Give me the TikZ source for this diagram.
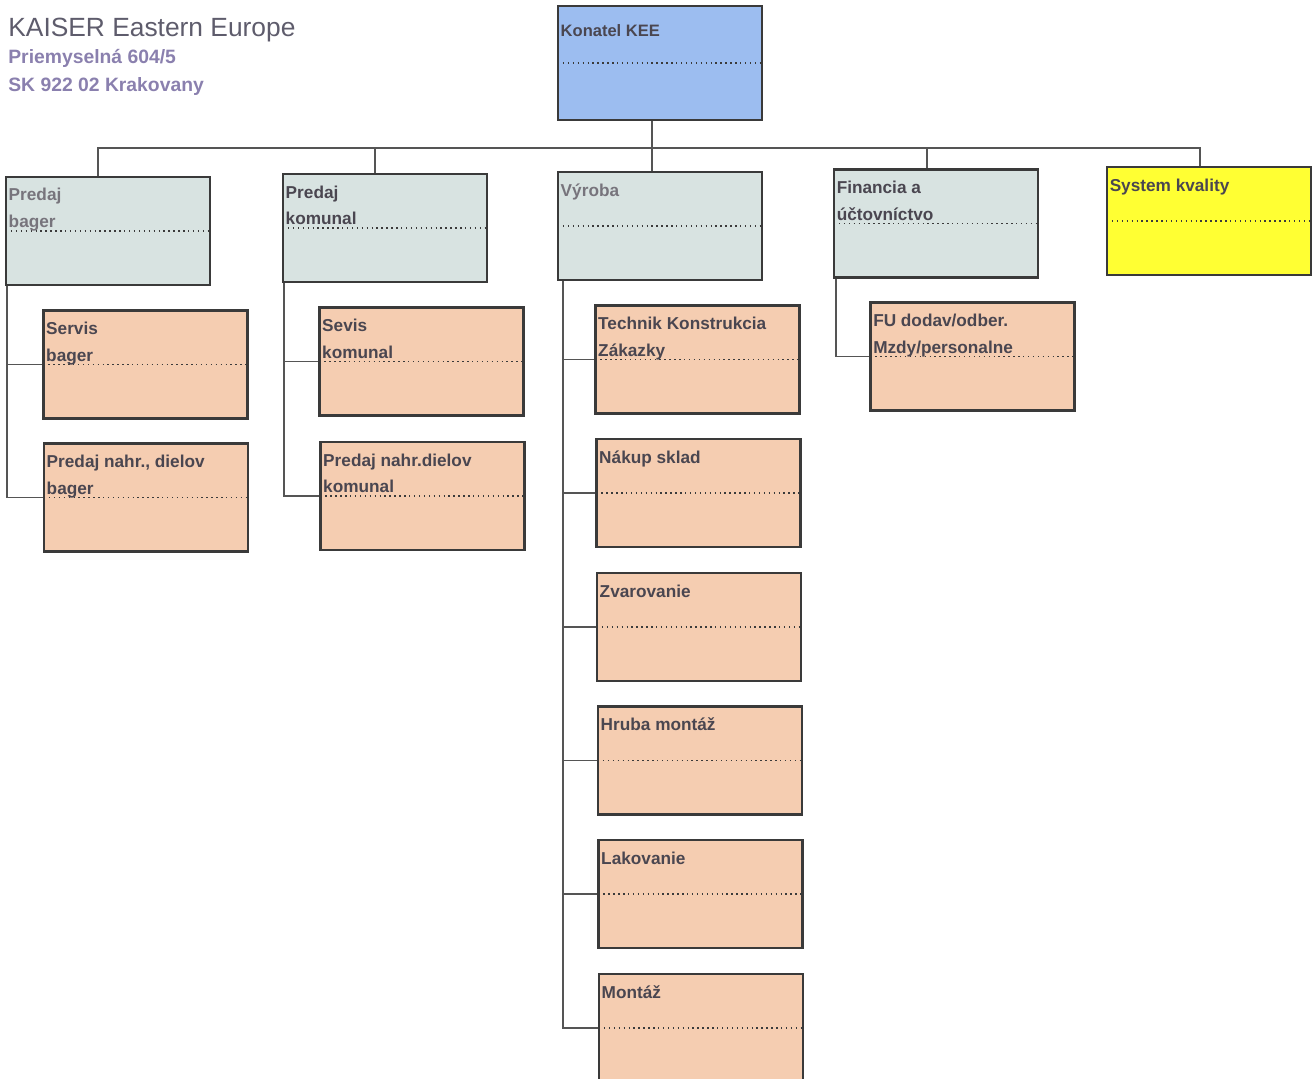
\documentclass[tikz,border=0pt]{standalone}
\usepackage{fontspec}
\setmainfont{Liberation Sans}
\usepackage{xcolor}
\usepackage{tikz}
\definecolor{keeLine}{HTML}{3A3A3A}
\definecolor{keeLink}{HTML}{555555}
\definecolor{keeText}{HTML}{4A4650}
\definecolor{keeBlue}{HTML}{9CBDF0}
\definecolor{keeGrey}{HTML}{D8E3E1}
\definecolor{keePeach}{HTML}{F5CDB1}
\definecolor{keeYellow}{HTML}{FFFF33}
\definecolor{keeTitle}{HTML}{5E5C6C}
\definecolor{keeAddr}{HTML}{8A80AE}

\begin{document}
\begin{tikzpicture}[
    x=0.02cm, y=-0.02cm,
    box/.style={rectangle, draw=keeLine, line width=1.3pt, minimum width=4.08cm, minimum height=2.16cm,
        path picture={\draw[keeLine, dotted, line width=0.8pt] (path picture bounding box.west) -- (path picture bounding box.east);}},
    lbl/.style={anchor=north west, inner xsep=2pt, inner ysep=7pt, align=left, text=keeText, font=\fontsize{9.8}{15.3}\selectfont\bfseries},
    link/.style={draw=keeLink, line width=0.9pt}
]
\clip (0,0) rectangle (1313,1079);

% header
\node[anchor=north west, inner sep=0pt, text=keeTitle, font=\fontsize{15}{16}\selectfont] (firma) at (8,18) {KAISER Eastern Europe};
\node[anchor=north west, inner sep=0pt, align=left, text=keeAddr, font=\fontsize{11}{16}\selectfont\bfseries] (adresa) at (8,49) {Priemyselná 604/5\\SK 922 02 Krakovany};

% top level
\node[box, fill=keeBlue, minimum height=2.28cm] (konatel) at (660,63) {};
\node[box, fill=keeGrey] (predajbager) at (108,231) {};
\node[box, fill=keeGrey] (predajkomunal) at (385,228) {};
\node[box, fill=keeGrey] (vyroba) at (660,226) {};
\node[box, fill=keeGrey] (financie) at (936,223.5) {};
\node[box, fill=keeYellow] (kvalita) at (1209,221) {};

% departments
\node[box, fill=keePeach] (servisbager) at (145.5,364.5) {};
\node[box, fill=keePeach] (dielybager) at (146,497.5) {};
\node[box, fill=keePeach] (servkomunal) at (421.5,361.5) {};
\node[box, fill=keePeach] (dielykomunal) at (422.5,496) {};
\node[box, fill=keePeach] (technik) at (697.5,359.5) {};
\node[box, fill=keePeach] (nakup) at (698.5,493) {};
\node[box, fill=keePeach] (zvarovanie) at (699,627) {};
\node[box, fill=keePeach] (hruba) at (700,760.5) {};
\node[box, fill=keePeach] (lakovanie) at (700.5,894) {};
\node[box, fill=keePeach] (montaz) at (701,1028) {};
\node[box, fill=keePeach] (fu) at (972.5,356.5) {};

% labels
\node[lbl, inner ysep=11pt, font=\fontsize{9.4}{15.3}\selectfont\bfseries] (konatelT) at (konatel.north west) {Konatel KEE};
\node[lbl, text=keeText!75] (predajbagerT) at (predajbager.north west) {Predaj\\bager};
\node[lbl] (predajkomunalT) at (predajkomunal.north west) {Predaj\\komunal};
\node[lbl, text=keeText!75] (vyrobaT) at (vyroba.north west) {Výroba};
\node[lbl] (financieT) at (financie.north west) {Financia a\\účtovníctvo};
\node[lbl] (kvalitaT) at (kvalita.north west) {System kvality};
\node[lbl] (servisbagerT) at (servisbager.north west) {Servis\\bager};
\node[lbl] (dielybagerT) at (dielybager.north west) {Predaj nahr., dielov\\bager};
\node[lbl] (servkomunalT) at (servkomunal.north west) {Sevis\\komunal};
\node[lbl] (dielykomunalT) at (dielykomunal.north west) {Predaj nahr.dielov\\komunal};
\node[lbl] (technikT) at (technik.north west) {Technik Konstrukcia\\Zákazky};
\node[lbl] (nakupT) at (nakup.north west) {Nákup sklad};
\node[lbl] (zvarovanieT) at (zvarovanie.north west) {Zvarovanie};
\node[lbl] (hrubaT) at (hruba.north west) {Hruba montáž};
\node[lbl] (lakovanieT) at (lakovanie.north west) {Lakovanie};
\node[lbl] (montazT) at (montaz.north west) {Montáž};
\node[lbl] (fuT) at (fu.north west) {FU dodav/odber.\\Mzdy/personalne};

% connectors
\coordinate (bus) at (652,148);
\draw[link] ([xshift=-0.16cm]konatel.south) -- (bus);
\draw[link] ([xshift=-0.2cm]predajbager.north) |- (bus) -| ([xshift=-0.18cm]kvalita.north);
\draw[link] ([xshift=-0.2cm]predajkomunal.north) -- ([xshift=-0.2cm]predajkomunal.north |- bus);
\draw[link] ([xshift=-0.16cm]vyroba.north) -- ([xshift=-0.16cm]vyroba.north |- bus);
\draw[link] ([xshift=-0.18cm]financie.north) -- ([xshift=-0.18cm]financie.north |- bus);

\foreach \c in {servisbager,dielybager}
    \draw[link] ([xshift=0.04cm]predajbager.south west) |- (\c.west);
\foreach \c in {servkomunal,dielykomunal}
    \draw[link] ([xshift=0.04cm]predajkomunal.south west) |- (\c.west);
\foreach \c in {technik,nakup,zvarovanie,hruba,lakovanie,montaz}
    \draw[link] ([xshift=0.12cm]vyroba.south west) |- (\c.west);
\draw[link] ([xshift=0.06cm]financie.south west) |- (fu.west);

\end{tikzpicture}
\end{document}
